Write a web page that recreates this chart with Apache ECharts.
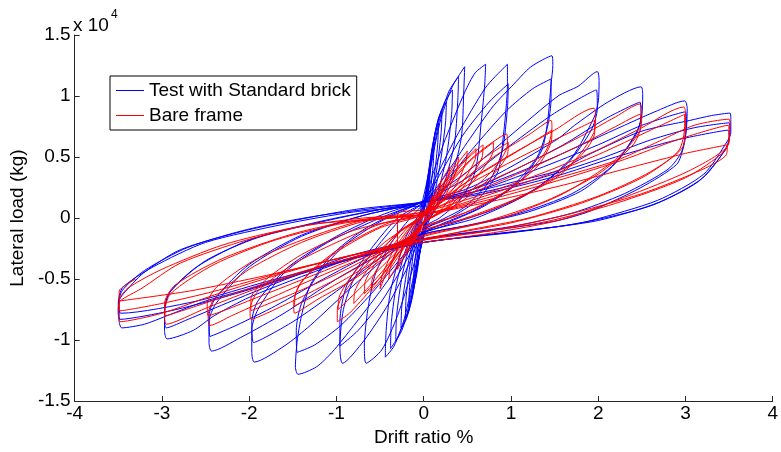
<!DOCTYPE html>
<html>
<head>
<meta charset="UTF-8">
<title>Hysteresis</title>
<script src="https://cdn.jsdelivr.net/npm/echarts@6/dist/echarts.min.js"></script>
<style>
  html, body { margin: 0; padding: 0; background: #fff; }
  #chart { width: 781px; height: 452px; }
</style>
</head>
<body>
<div id="chart"></div>
<script>
// drift ratio (%) , lateral load (x 10^4 kg) - one array per cycle
var xTicks = [-4, -3, -2, -1, 0, 1, 2, 3, 4];
var yTicks = [-1.5, -1, -0.5, 0, 0.5, 1, 1.5];
var seriesNames = ['Test with Standard brick', 'Bare frame'];

// Test with Standard brick
var b01 = [[0,0.02],[0.03,0.25],[0.06,0.4],[0.08,0.45],[0.07,0.32],[0.04,0.12],[0.01,-0.02],[-0.02,-0.15],[-0.05,-0.32],[-0.08,-0.40],[-0.07,-0.28],[-0.04,-0.1],[-0.01,0.02]];
var b02 = [[0.03,0.22],[0.07,0.45],[0.1,0.57],[0.12,0.62],[0.11,0.45],[0.07,0.18],[0.02,-0.02],[-0.03,-0.2],[-0.07,-0.42],[-0.1,-0.53],[-0.12,-0.58],[-0.11,-0.42],[-0.07,-0.16],[-0.02,0.03]];
var b03 = [[0.04,0.25],[0.09,0.55],[0.14,0.72],[0.17,0.78],[0.16,0.6],[0.11,0.28],[0.04,0.0],[-0.04,-0.25],[-0.1,-0.52],[-0.14,-0.66],[-0.17,-0.72],[-0.16,-0.55],[-0.11,-0.25],[-0.03,0.04]];
var b04 = [[0.05,0.3],[0.11,0.62],[0.17,0.82],[0.21,0.88],[0.2,0.7],[0.14,0.35],[0.05,0.02],[-0.05,-0.3],[-0.12,-0.6],[-0.17,-0.76],[-0.21,-0.82],[-0.2,-0.64],[-0.14,-0.3],[-0.04,0.05]];
var b05 = [[0.06,0.38],[0.13,0.7],[0.2,0.88],[0.26,0.95],[0.25,0.78],[0.19,0.45],[0.1,0.12],[0.02,-0.05],[-0.06,-0.35],[-0.13,-0.65],[-0.2,-0.83],[-0.26,-0.90],[-0.25,-0.72],[-0.18,-0.38],[-0.08,-0.05],[0.01,0.08]];
var b06 = [[0.07,0.4],[0.15,0.75],[0.24,0.95],[0.33,1.05],[0.32,0.85],[0.26,0.5],[0.14,0.15],[0.03,-0.05],[-0.08,-0.4],[-0.16,-0.72],[-0.25,-0.92],[-0.32,-1.01],[-0.31,-0.8],[-0.24,-0.45],[-0.1,-0.08],[0.01,0.08]];
var b07 = [[0.08,0.42],[0.18,0.8],[0.29,1.04],[0.4,1.16],[0.39,0.95],[0.35,0.6],[0.2,0.2],[0.04,-0.06],[-0.09,-0.42],[-0.19,-0.78],[-0.3,-0.98],[-0.38,-1.07],[-0.37,-0.85],[-0.3,-0.5],[-0.13,-0.1],[0.01,0.09]];
var b08 = [[0.09,0.45],[0.2,0.82],[0.33,1.08],[0.47,1.24],[0.46,1.05],[0.43,0.65],[0.3,0.3],[0.12,0.05],[0.0,-0.08],[-0.1,-0.42],[-0.22,-0.82],[-0.34,-1.05],[-0.44,-1.14],[-0.43,-0.92],[-0.38,-0.6],[-0.2,-0.15],[0.0,0.1]];
var b09 = [[0.1,0.35],[0.25,0.65],[0.47,1.03],[0.59,1.19],[0.71,1.26],[0.7,1.1],[0.66,0.79],[0.59,0.38],[0.42,0.15],[0.18,0.0],[0.0,-0.08],[-0.12,-0.4],[-0.3,-0.8],[-0.48,-1.08],[-0.66,-1.19],[-0.68,-1.05],[-0.64,-0.75],[-0.55,-0.45],[-0.35,-0.18],[-0.12,0.03],[0.0,0.12]];
var b10 = [[0.15,0.35],[0.4,0.7],[0.7,1.06],[0.82,1.16],[0.96,1.26],[0.96,1.1],[0.91,0.65],[0.85,0.38],[0.62,0.15],[0.3,0.0],[0.0,-0.1],[-0.15,-0.35],[-0.4,-0.7],[-0.68,-1.0],[-0.93,-1.19],[-0.96,-1.05],[-0.92,-0.75],[-0.8,-0.5],[-0.55,-0.25],[-0.25,0.0],[0.0,0.13]];
var b11 = [[0.18,0.35],[0.45,0.68],[0.75,0.95],[0.97,1.10],[0.96,0.9],[0.9,0.55],[0.75,0.3],[0.45,0.08],[0.0,-0.1],[-0.2,-0.35],[-0.48,-0.68],[-0.75,-0.92],[-0.96,-1.05],[-0.96,-0.85],[-0.88,-0.55],[-0.6,-0.25],[-0.3,0.0],[0.0,0.13]];
var b12 = [[0.2,0.3],[0.5,0.62],[0.8,0.92],[1.01,1.08],[1.23,1.24],[1.47,1.33],[1.48,1.25],[1.46,1.1],[1.42,0.79],[1.35,0.55],[1.1,0.3],[0.7,0.1],[0.3,-0.03],[0.0,-0.12],[-0.2,-0.3],[-0.5,-0.6],[-0.8,-0.88],[-1.05,-1.1],[-1.23,-1.22],[-1.44,-1.28],[-1.47,-1.22],[-1.45,-1.01],[-1.4,-0.8],[-1.3,-0.55],[-1.05,-0.3],[-0.7,-0.1],[-0.3,0.05],[0.0,0.14]];
var b13 = [[0.25,0.3],[0.6,0.6],[0.95,0.88],[1.25,1.06],[1.46,1.14],[1.46,0.98],[1.42,0.75],[1.3,0.5],[1.0,0.25],[0.6,0.07],[0.0,-0.12],[-0.25,-0.32],[-0.6,-0.62],[-0.95,-0.88],[-1.25,-1.04],[-1.45,-1.1],[-1.46,-0.92],[-1.4,-0.7],[-1.2,-0.45],[-0.9,-0.22],[-0.5,-0.03],[0.0,0.14]];
var b14 = [[0.5,0.38],[1.0,0.68],[1.54,1.0],[1.77,1.08],[1.99,1.2],[2.01,1.12],[2.0,0.95],[1.95,0.82],[1.7,0.5],[1.3,0.25],[0.8,0.07],[0.3,-0.05],[0.0,-0.12],[-0.3,-0.25],[-0.8,-0.55],[-1.3,-0.88],[-1.6,-1.05],[-1.94,-1.18],[-1.97,-1.1],[-1.97,-0.92],[-1.9,-0.75],[-1.6,-0.45],[-1.1,-0.2],[-0.5,0.0],[0.0,0.14]];
var b15 = [[0.5,0.33],[1.0,0.6],[1.5,0.86],[1.98,1.05],[1.99,0.9],[1.92,0.72],[1.65,0.45],[1.2,0.2],[0.6,0.0],[0.0,-0.12],[-0.5,-0.33],[-1.0,-0.6],[-1.5,-0.85],[-1.95,-1.02],[-1.97,-0.85],[-1.9,-0.68],[-1.55,-0.4],[-1.0,-0.15],[-0.5,0.02],[0.0,0.14]];
var b16 = [[0.5,0.24],[1.0,0.42],[1.54,0.65],[1.73,0.76],[2.11,0.95],[2.49,1.075],[2.51,1.0],[2.5,0.85],[2.45,0.72],[2.2,0.45],[1.8,0.22],[1.2,0.05],[0.6,-0.05],[0.0,-0.13],[-0.3,-0.22],[-1.0,-0.5],[-1.6,-0.78],[-2.1,-0.98],[-2.43,-1.09],[-2.46,-1.02],[-2.46,-0.85],[-2.38,-0.7],[-2.0,-0.4],[-1.4,-0.15],[-0.7,0.02],[0.0,0.13]];
var b17 = [[0.5,0.22],[1.0,0.38],[1.6,0.6],[2.1,0.82],[2.48,0.95],[2.49,0.82],[2.43,0.68],[2.15,0.42],[1.7,0.2],[1.1,0.04],[0.5,-0.06],[0.0,-0.13],[-0.5,-0.26],[-1.1,-0.48],[-1.7,-0.72],[-2.15,-0.88],[-2.45,-0.97],[-2.46,-0.8],[-2.38,-0.65],[-2.0,-0.38],[-1.4,-0.14],[-0.7,0.02],[0.0,0.13]];
var b18 = [[0.5,0.22],[1.0,0.35],[1.5,0.5],[2.3,0.76],[2.68,0.88],[2.99,0.96],[3.02,0.9],[3.01,0.72],[2.98,0.59],[2.9,0.44],[2.49,0.25],[1.92,0.06],[1.54,-0.02],[0.8,-0.1],[0.0,-0.17],[-0.7,-0.3],[-1.4,-0.48],[-2.0,-0.65],[-2.4,-0.8],[-2.64,-0.92],[-2.94,-0.99],[-2.97,-0.92],[-2.97,-0.75],[-2.9,-0.6],[-2.5,-0.35],[-1.9,-0.16],[-1.1,-0.02],[-0.5,0.07],[0.0,0.13]];
var b19 = [[0.6,0.22],[1.3,0.4],[2.0,0.6],[2.5,0.76],[3.0,0.87],[3.01,0.78],[2.96,0.55],[2.8,0.4],[2.3,0.2],[1.7,0.04],[1.0,-0.07],[0.0,-0.17],[-0.8,-0.3],[-1.5,-0.48],[-2.2,-0.68],[-2.7,-0.83],[-2.95,-0.9],[-2.97,-0.8],[-2.92,-0.62],[-2.6,-0.4],[-2.0,-0.18],[-1.2,-0.03],[-0.5,0.07],[0.0,0.13]];
var b20 = [[0.5,0.2],[1.0,0.29],[1.54,0.39],[1.92,0.53],[2.49,0.71],[3.05,0.80],[3.3,0.84],[3.51,0.86],[3.52,0.8],[3.52,0.7],[3.48,0.63],[3.21,0.36],[2.68,0.145],[1.92,-0.02],[1.54,-0.07],[0.8,-0.13],[0.0,-0.2],[-0.74,-0.31],[-1.4,-0.45],[-2.0,-0.58],[-2.5,-0.68],[-2.94,-0.8],[-3.2,-0.87],[-3.46,-0.9],[-3.49,-0.84],[-3.49,-0.68],[-3.44,-0.62],[-3.21,-0.45],[-2.79,-0.26],[-2.03,-0.1],[-1.27,0.01],[-0.74,0.075],[0.0,0.13]];
var b21 = [[0.6,0.2],[1.3,0.32],[2.0,0.48],[2.6,0.64],[3.1,0.74],[3.5,0.78],[3.51,0.7],[3.47,0.58],[3.2,0.33],[2.7,0.13],[2.0,-0.02],[1.2,-0.1],[0.0,-0.2],[-0.8,-0.33],[-1.6,-0.5],[-2.3,-0.65],[-2.9,-0.76],[-3.48,-0.83],[-3.5,-0.75],[-3.46,-0.6],[-3.2,-0.43],[-2.7,-0.24],[-2.0,-0.09],[-1.2,0.02],[0.0,0.13]];
var b22 = [[0.7,0.2],[1.5,0.34],[2.2,0.5],[2.9,0.64],[3.49,0.72],[3.5,0.64],[3.45,0.55],[3.15,0.3],[2.6,0.1],[1.8,-0.04],[1.0,-0.12],[0.0,-0.2],[-0.9,-0.35],[-1.8,-0.52],[-2.6,-0.68],[-3.47,-0.78],[-3.5,-0.7],[-3.45,-0.57],[-3.1,-0.4],[-2.5,-0.2],[-1.6,-0.05],[-0.8,0.05],[0.0,0.1]];

// Bare frame
var r01 = [[0,0],[0.05,0.1],[0.1,0.18],[0.09,0.12],[0.04,0.03],[0,-0.02],[-0.05,-0.1],[-0.1,-0.18],[-0.09,-0.12],[-0.04,-0.03],[0,0.02]];
var r02 = [[0.1,0.16],[0.2,0.3],[0.18,0.22],[0.1,0.08],[0,-0.03],[-0.1,-0.16],[-0.2,-0.3],[-0.18,-0.22],[-0.1,-0.08],[0,0.03]];
var r03 = [[0.1,0.15],[0.2,0.3],[0.3,0.42],[0.28,0.33],[0.18,0.15],[0.05,0.0],[-0.05,-0.08],[-0.15,-0.22],[-0.3,-0.42],[-0.28,-0.33],[-0.18,-0.15],[-0.05,0.0],[0,0.03]];
var r04 = [[0.12,0.16],[0.26,0.33],[0.4,0.5],[0.38,0.4],[0.26,0.2],[0.08,0.02],[-0.12,-0.16],[-0.26,-0.34],[-0.4,-0.5],[-0.38,-0.4],[-0.26,-0.2],[-0.08,-0.02],[0,0.03]];
var r05 = [[0.15,0.18],[0.3,0.36],[0.5,0.55],[0.48,0.45],[0.35,0.25],[0.1,0.08],[-0.3,0.03],[-0.3,-0.23],[-0.4,-0.4],[-0.5,-0.58],[-0.48,-0.48],[-0.35,-0.27],[-0.15,-0.07],[0,0.02]];
var r06 = [[0.18,0.2],[0.4,0.42],[0.6,0.57],[0.59,0.48],[0.45,0.3],[0.2,0.07],[0,-0.04],[-0.2,-0.22],[-0.4,-0.43],[-0.6,-0.6],[-0.59,-0.5],[-0.45,-0.32],[-0.2,-0.09],[0,0.03]];
var r07 = [[0.2,0.2],[0.45,0.45],[0.68,0.6],[0.67,0.5],[0.5,0.3],[0.25,0.08],[0,-0.04],[-0.2,-0.2],[-0.45,-0.45],[-0.68,-0.62],[-0.67,-0.52],[-0.5,-0.32],[-0.25,-0.1],[0,0.03]];
var r08 = [[0.25,0.24],[0.55,0.48],[0.8,0.62],[0.79,0.53],[0.6,0.33],[0.3,0.1],[0,-0.04],[-0.25,-0.25],[-0.55,-0.5],[-0.8,-0.7],[-0.79,-0.6],[-0.6,-0.38],[-0.3,-0.12],[0,0.03]];
var r09 = [[0.3,0.3],[0.6,0.52],[0.95,0.69],[0.96,0.6],[0.8,0.4],[0.5,0.2],[0.2,0.05],[0,-0.03],[-0.3,-0.3],[-0.6,-0.58],[-0.85,-0.78],[-0.99,-0.85],[-0.99,-0.75],[-0.85,-0.55],[-0.55,-0.3],[-0.25,-0.1],[0,0.02]];
var r10 = [[0.3,0.25],[0.65,0.47],[0.97,0.62],[0.96,0.52],[0.75,0.32],[0.4,0.12],[0,-0.04],[-0.3,-0.27],[-0.65,-0.52],[-0.98,-0.75],[-0.97,-0.65],[-0.8,-0.45],[-0.45,-0.2],[0,0.02]];
var r11 = [[0.4,0.28],[0.8,0.5],[1.2,0.68],[1.46,0.8],[1.47,0.74],[1.4,0.55],[1.1,0.3],[0.6,0.08],[0,-0.08],[-0.4,-0.3],[-0.8,-0.5],[-1.2,-0.66],[-1.48,-0.78],[-1.49,-0.7],[-1.4,-0.52],[-1.0,-0.28],[-0.5,-0.08],[0,0.03]];
var r12 = [[0.4,0.25],[0.85,0.45],[1.2,0.6],[1.47,0.72],[1.46,0.62],[1.3,0.42],[0.9,0.2],[0.4,0.02],[0,-0.07],[-0.4,-0.28],[-0.85,-0.48],[-1.2,-0.62],[-1.48,-0.72],[-1.47,-0.62],[-1.3,-0.44],[-0.9,-0.22],[-0.4,-0.04],[0,0.03]];
var r13 = [[0.5,0.3],[1.0,0.52],[1.5,0.72],[1.95,0.9],[1.97,0.85],[1.95,0.7],[1.7,0.45],[1.2,0.2],[0.6,0.02],[0,-0.1],[-0.5,-0.3],[-1.0,-0.5],[-1.5,-0.68],[-1.98,-0.83],[-1.99,-0.75],[-1.9,-0.6],[-1.5,-0.38],[-1.0,-0.2],[-0.5,-0.05],[0,0.04]];
var r14 = [[0.5,0.27],[1.0,0.46],[1.5,0.64],[1.96,0.8],[1.96,0.7],[1.85,0.55],[1.5,0.32],[1.0,0.14],[0.4,-0.02],[0,-0.1],[-0.5,-0.28],[-1.0,-0.46],[-1.5,-0.62],[-1.98,-0.76],[-1.98,-0.66],[-1.8,-0.5],[-1.4,-0.3],[-0.8,-0.1],[0,0.04]];
var r15 = [[0.6,0.25],[1.2,0.45],[1.8,0.67],[2.2,0.83],[2.48,0.935],[2.5,0.88],[2.48,0.72],[2.2,0.48],[1.6,0.2],[0.9,0.0],[0,-0.15],[-0.6,-0.3],[-1.2,-0.48],[-1.8,-0.67],[-2.2,-0.8],[-2.45,-0.88],[-2.47,-0.8],[-2.4,-0.66],[-2.0,-0.42],[-1.4,-0.2],[-0.7,-0.03],[0,0.05]];
var r16 = [[0.6,0.22],[1.2,0.4],[1.8,0.6],[2.2,0.75],[2.48,0.85],[2.49,0.76],[2.4,0.6],[2.0,0.36],[1.4,0.14],[0.7,-0.03],[0,-0.14],[-0.6,-0.28],[-1.2,-0.45],[-1.8,-0.62],[-2.47,-0.8],[-2.48,-0.7],[-2.35,-0.55],[-1.9,-0.33],[-1.2,-0.13],[-0.6,0.0],[0,0.05]];
var r17 = [[0.7,0.2],[1.4,0.38],[2.0,0.56],[2.5,0.74],[2.98,0.91],[3.0,0.86],[2.98,0.6],[2.6,0.38],[2.0,0.18],[1.2,0.0],[0.5,-0.1],[0,-0.18],[-0.7,-0.3],[-1.4,-0.45],[-2.0,-0.6],[-2.5,-0.74],[-2.95,-0.87],[-2.97,-0.78],[-2.9,-0.62],[-2.4,-0.38],[-1.7,-0.18],[-0.9,-0.04],[0,0.03]];
var r18 = [[0.7,0.18],[1.4,0.35],[2.0,0.52],[2.6,0.72],[2.99,0.85],[2.99,0.75],[2.92,0.55],[2.5,0.33],[1.8,0.12],[1.0,-0.04],[0,-0.17],[-0.7,-0.3],[-1.4,-0.44],[-2.1,-0.6],[-2.6,-0.72],[-2.96,-0.8],[-2.97,-0.7],[-2.85,-0.55],[-2.3,-0.33],[-1.5,-0.13],[-0.8,-0.02],[0,0.03]];
var r19 = [[0.8,0.18],[1.54,0.33],[2.2,0.47],[2.7,0.63],[3.1,0.76],[3.5,0.81],[3.51,0.77],[3.49,0.6],[3.05,0.39],[2.3,0.17],[1.54,-0.02],[0.8,-0.12],[0,-0.2],[-0.8,-0.3],[-1.6,-0.45],[-2.4,-0.63],[-3.0,-0.78],[-3.48,-0.85],[-3.5,-0.75],[-3.48,-0.68],[-3.24,-0.58],[-2.79,-0.37],[-2.03,-0.18],[-1.27,-0.05],[-0.74,-0.02],[0,0.03]];
var r20 = [[0.8,0.16],[1.6,0.32],[2.3,0.48],[2.9,0.64],[3.49,0.76],[3.5,0.68],[3.45,0.55],[3.0,0.33],[2.2,0.12],[1.4,-0.03],[0.6,-0.12],[0,-0.18],[-0.8,-0.3],[-1.6,-0.44],[-2.4,-0.6],[-3.0,-0.7],[-3.48,-0.76],[-3.49,-0.68],[-3.4,-0.58],[-3.0,-0.42],[-2.3,-0.22],[-1.5,-0.08],[-0.7,0.0],[0,0.03]];
var r21 = [[0.8,0.14],[1.6,0.27],[2.4,0.42],[3.0,0.53],[3.48,0.6],[3.47,0.52],[3.2,0.4],[2.5,0.2],[1.6,0.02],[0.8,-0.1],[0,-0.18],[-0.9,-0.32],[-1.8,-0.47],[-2.7,-0.6],[-3.49,-0.68],[-3.49,-0.6],[-3.3,-0.5]];

var testBrickCycles = [b01,b02,b03,b04,b05,b06,b07,b08,b09,b10,b11,b12,b13,b14,b15,b16,b17,b18,b19,b20,b21,b22];
var bareFrameCycles = [r01,r02,r03,r04,r05,r06,r07,r08,r09,r10,r11,r12,r13,r14,r15,r16,r17,r18,r19,r20,r21];

function joinCycles(cycles) {
    var out = [];
    for (var i = 0; i < cycles.length; i++) {
        out = out.concat(cycles[i]);
    }
    return out;
}

var FONT = "'Liberation Sans', Arial, Helvetica, sans-serif";
var myChart = echarts.init(document.getElementById('chart'), null, {renderer: 'canvas'});

var option = {
    animation: false,
    backgroundColor: '#fff',
    grid: { left: 74, right: 5, top: 35, bottom: 44 },
    legend: {
        orient: 'vertical',
        left: 110,
        top: 76,
        padding: [5, 6, 5, 6],
        itemGap: 6,
        itemWidth: 28,
        itemHeight: 1,
        borderColor: '#000',
        borderWidth: 1,
        backgroundColor: '#fff',
        textStyle: { fontFamily: FONT, fontSize: 19, color: '#000' },
        data: [
            { name: seriesNames[0], icon: 'rect' },
            { name: seriesNames[1], icon: 'rect' }
        ]
    },
    graphic: [
        { type: 'text', left: 73, top: 16, style: { text: 'x 10', font: '19px ' + FONT, fill: '#000' } },
        { type: 'text', left: 111, top: 9, style: { text: '4', font: '12px ' + FONT, fill: '#000' } }
    ],
    xAxis: {
        type: 'value',
        min: xTicks[0],
        max: xTicks[xTicks.length - 1],
        interval: 1,
        name: 'Drift ratio %',
        nameLocation: 'middle',
        nameGap: 21,
        nameTextStyle: { fontFamily: FONT, fontSize: 19, color: '#000' },
        axisLine: { onZero: false, lineStyle: { color: '#262626', width: 1 } },
        axisTick: { inside: true, length: 5, lineStyle: { color: '#262626' } },
        axisLabel: { fontFamily: FONT, fontSize: 19, color: '#000', margin: 3 },
        splitLine: { show: false }
    },
    yAxis: {
        type: 'value',
        min: yTicks[0],
        max: yTicks[yTicks.length - 1],
        interval: 0.5,
        name: 'Lateral load (kg)',
        nameLocation: 'middle',
        nameGap: 44,
        nameTextStyle: { fontFamily: FONT, fontSize: 19, color: '#000' },
        axisLine: { onZero: false, lineStyle: { color: '#262626', width: 1 } },
        axisTick: { inside: true, length: 5, lineStyle: { color: '#262626' } },
        axisLabel: { fontFamily: FONT, fontSize: 19, color: '#000', margin: 4 },
        splitLine: { show: false }
    },
    series: [
        {
            name: seriesNames[0],
            type: 'line',
            data: joinCycles(testBrickCycles),
            showSymbol: false,
            smooth: 0.25,
            color: '#0000ff',
            lineStyle: { color: '#0000ff', width: 1 }
        },
        {
            name: seriesNames[1],
            type: 'line',
            data: joinCycles(bareFrameCycles),
            showSymbol: false,
            smooth: 0.25,
            color: '#ff0000',
            lineStyle: { color: '#ff0000', width: 1 }
        }
    ]
};

myChart.setOption(option);
</script>
</body>
</html>
